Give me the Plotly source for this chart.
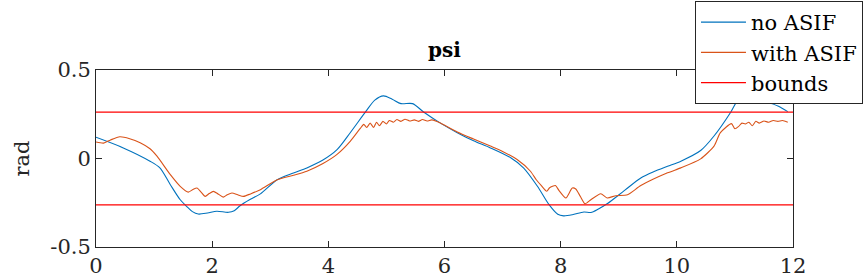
import plotly.graph_objects as go

# no ASIF (blue)
t_no = [0.00, 0.47, 0.93, 1.10, 1.28, 1.45, 1.56, 1.66, 1.76, 1.92, 2.08, 2.28, 2.38, 2.48, 2.65,
        2.83, 3.12, 3.40, 3.63, 3.90, 4.15, 4.38, 4.64, 4.80, 4.95, 5.10, 5.25, 5.45, 5.64,
        5.93, 6.22, 6.50, 6.79, 7.14, 7.36, 7.60, 7.80, 7.95, 8.05, 8.20, 8.40, 8.52, 8.65,
        8.80, 9.10, 9.38, 9.60, 9.84, 10.07, 10.41, 10.64, 10.93, 11.05, 11.15, 11.30, 11.40,
        11.60, 11.75, 11.91]
v_no = [0.120, 0.060, -0.015, -0.053, -0.148, -0.233, -0.270, -0.300, -0.314, -0.308, -0.298,
        -0.304, -0.295, -0.267, -0.232, -0.200, -0.120, -0.082, -0.053, -0.010, 0.050, 0.147,
        0.263, 0.330, 0.354, 0.335, 0.310, 0.310, 0.263, 0.200, 0.146, 0.100, 0.060, 0.004,
        -0.053, -0.157, -0.261, -0.315, -0.324, -0.318, -0.302, -0.305, -0.285, -0.256,
        -0.180, -0.110, -0.075, -0.044, -0.015, 0.045, 0.127, 0.263, 0.330, 0.350, 0.325,
        0.316, 0.314, 0.295, 0.265]

# with ASIF (orange)
t_with = [0.00, 0.13, 0.25, 0.41, 0.58, 0.76, 0.93, 1.05, 1.28, 1.45, 1.59, 1.67, 1.74, 1.81,
          1.88, 1.95, 2.02, 2.10, 2.19, 2.26, 2.34, 2.44, 2.54, 2.66, 2.83, 3.12, 3.40, 3.63,
          3.90, 4.15, 4.38, 4.55, 4.61, 4.66, 4.72, 4.78, 4.83, 4.88, 4.94, 5.00, 5.05, 5.12,
          5.18, 5.25, 5.32, 5.40, 5.48, 5.55, 5.62, 5.70, 5.78, 5.86, 5.93, 6.22, 6.50, 6.79,
          7.00, 7.25, 7.48, 7.58, 7.66, 7.76, 7.81, 7.91, 7.97, 8.09, 8.20, 8.26, 8.34, 8.42,
          8.52, 8.69, 8.80, 8.95, 9.15, 9.38, 9.84, 10.07, 10.41, 10.64, 10.75, 10.94, 11.00,
          11.06, 11.12, 11.18, 11.24, 11.30, 11.36, 11.42, 11.50, 11.58, 11.66, 11.74, 11.82,
          11.91]
v_with = [0.093, 0.087, 0.105, 0.123, 0.112, 0.089, 0.055, 0.013, -0.091, -0.157, -0.190,
          -0.175, -0.167, -0.190, -0.214, -0.198, -0.186, -0.200, -0.218, -0.205, -0.195,
          -0.205, -0.214, -0.200, -0.176, -0.120, -0.095, -0.072, -0.030, 0.023, 0.098, 0.170,
          0.193, 0.175, 0.200, 0.175, 0.205, 0.185, 0.210, 0.195, 0.215, 0.205, 0.220, 0.210,
          0.222, 0.212, 0.218, 0.210, 0.220, 0.212, 0.218, 0.210, 0.200, 0.150, 0.110, 0.070,
          0.040, -0.006, -0.072, -0.120, -0.150, -0.185, -0.165, -0.153, -0.180, -0.223,
          -0.167, -0.172, -0.215, -0.256, -0.233, -0.199, -0.223, -0.210, -0.205, -0.153,
          -0.081, -0.053, -0.002, 0.070, 0.146, 0.197, 0.168, 0.180, 0.200, 0.195, 0.205,
          0.185, 0.210, 0.200, 0.212, 0.205, 0.215, 0.210, 0.215, 0.205]

bound = 0.2618
t_range = [0, 12]
x_ticks = [0, 2, 4, 6, 8, 10, 12]
y_ticks = [-0.5, 0, 0.5]
y_tick_text = ["-0.5", "0", "0.5"]

FONT = "DejaVu Serif"

fig = go.Figure()
fig.add_trace(go.Scatter(x=t_no, y=v_no, mode="lines", name="no ASIF",
                         line=dict(color="#0072BD", width=1.1, shape="spline", smoothing=0.8)))
fig.add_trace(go.Scatter(x=t_with, y=v_with, mode="lines", name="with ASIF",
                         line=dict(color="#D95319", width=1.1, shape="spline", smoothing=0.6)))
fig.add_trace(go.Scatter(x=[t_range[0], t_range[1], None, t_range[0], t_range[1]],
                         y=[bound, bound, None, -bound, -bound], mode="lines", name="bounds",
                         line=dict(color="#FF0000", width=1.3)))

axis_common = dict(showline=True, linecolor="#262626", linewidth=1, mirror="ticks",
                   ticks="inside", ticklen=6, tickcolor="#262626", showgrid=False,
                   zeroline=False, tickfont=dict(family=FONT, size=21, color="#262626"))

fig.update_layout(
    width=864, height=280,
    margin=dict(l=96, r=71, t=70, b=33, autoexpand=False),
    paper_bgcolor="white", plot_bgcolor="white",
    font=dict(family=FONT, size=21, color="#262626"),
    title=dict(text="<b>psi</b>", x=0.5, xanchor="center", xref="paper", y=1 - 50 / 280,
               yanchor="middle", yref="container", font=dict(family=FONT, size=20, color="black")),
    xaxis=dict(range=t_range, tickvals=x_ticks, **axis_common),
    yaxis=dict(range=[-0.5, 0.5], tickvals=y_ticks, ticktext=y_tick_text,
               title=dict(text="rad", font=dict(family=FONT, size=21, color="#262626"),
                          standoff=14), **axis_common),
    legend=dict(x=1.1004, xanchor="right", y=1.39, yanchor="top", bgcolor="white",
                bordercolor="#262626", borderwidth=1, itemwidth=45,
                font=dict(family=FONT, size=21, color="black"), tracegroupgap=0),
    showlegend=True,
)

fig.write_html("out.html")
